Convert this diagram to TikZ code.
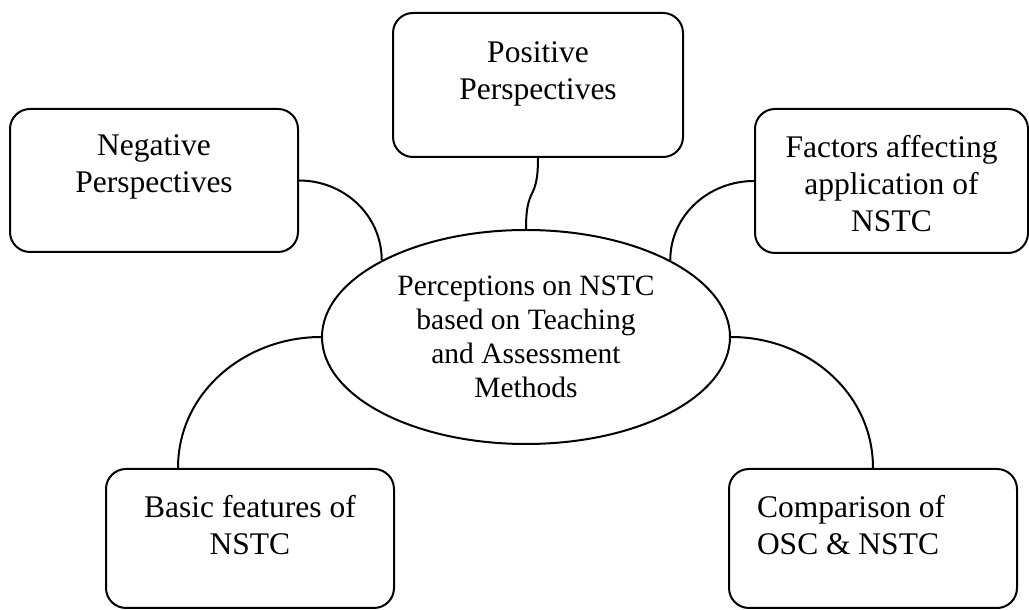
\documentclass[tikz,border=0pt]{standalone}
\usepackage{fontspec}
\setmainfont{Liberation Serif}
\usetikzlibrary{shapes.geometric}

\begin{document}
\begin{tikzpicture}[x=0.5pt, y=0.5pt, line width=1pt,
    box/.style = {draw, rounded corners=10pt, inner xsep=0pt, inner ysep=13pt,
                  font=\fontsize{15.75pt}{18.5pt}\selectfont},
    hub/.style = {draw, ellipse, inner sep=0pt, minimum width=204pt, minimum height=107pt,
                  align=center, font=\fontsize{14.75pt}{17pt}\selectfont}]
    \useasboundingbox (0,0) rectangle (1029,610);

    % Centre

    \node [hub] (hub) at (526,273) {Perceptions on NSTC\\based on Teaching\\and Assessment\\Methods};

    % Top row

    \node [box] (neg) at (154,429.5) {\parbox[c][45.5pt][t]{144pt}{\centering Negative\\Perspectives}};
    \node [box, inner ysep=14.5pt] (pos) at (538,525) {\parbox[c][43pt][t]{145pt}{\centering Positive\\Perspectives}};
    \node [box] (fac) at (891.5,429) {\parbox[c][46pt][t]{136.5pt}{\centering Factors affecting\\application of\\NSTC}};

    % Bottom row

    \node [box] (bas) at (250,71.5) {\parbox[c][43.5pt][t]{144pt}{\centering Basic features of\\NSTC}};
    \node [box] (com) at (873,71.5) {\parbox[c][43.5pt][t]{144pt}{\raggedright\leftskip=14pt Comparison of\\OSC \& NSTC}};

    \coordinate (bastop) at ([xshift=-36pt]bas.north);

    % Links

    \draw (neg.east) to[out=0, in=90] (hub.152);
    \draw (pos.south) to[out=-90, in=90, looseness=1.6] (hub.north);
    \draw (fac.west) to[out=180, in=90] (hub.28);
    \draw (hub.west) to[out=180, in=90] (bastop);
    \draw (hub.east) to[out=0, in=90] (com.north);
\end{tikzpicture}
\end{document}
